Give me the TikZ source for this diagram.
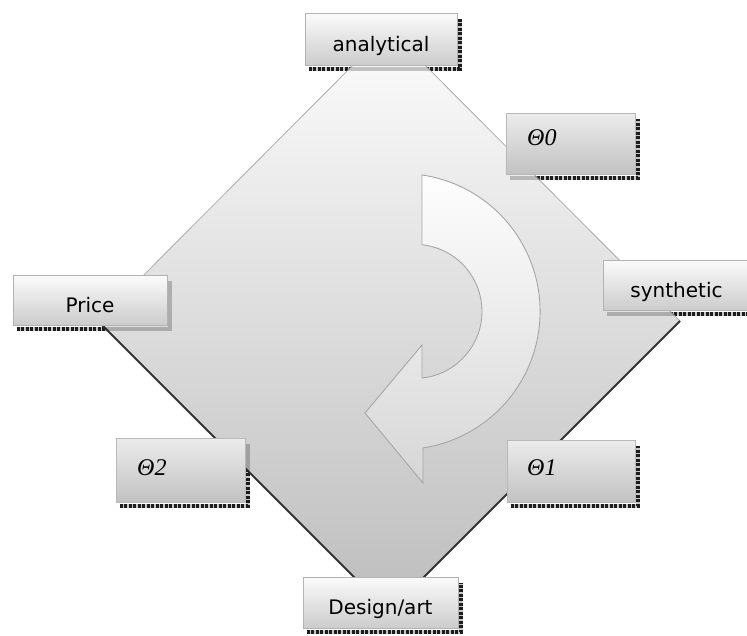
\documentclass[tikz,border=0pt]{standalone}
\usepackage{fontspec}
\setmainfont{DejaVu Sans}
\newfontfamily\thetafont{Liberation Serif}
\usetikzlibrary{calc}
\pgfdeclarelayer{shadowlayer}
\pgfdeclarelayer{bglayer}
\pgfdeclarelayer{softshadow}
\pgfsetlayers{shadowlayer,bglayer,softshadow,main}
\begin{document}
\begin{tikzpicture}[x=1pt,y=1pt,
  box/.style={rectangle, draw=gray!60, line width=0.6pt, top color=gray!3, bottom color=gray!40,
    inner sep=0pt, text height=26pt, text depth=2pt, font=\fontsize{20}{24}\selectfont},
  tbox/.style={rectangle, draw=gray!55, line width=0.6pt, top color=gray!15, bottom color=gray!48, inner sep=0pt},
  tlabel/.style={inner sep=0pt, font=\thetafont\itshape\fontsize{24}{28}\selectfont},
  shad/.style={black!85, line width=3.5pt, dash pattern=on 3pt off 1.5pt},
  softshad/.style={black, opacity=0.22, line width=3.5pt},
]
\useasboundingbox (0,0) rectangle (747,-635);
\clip (0,0) rectangle (747,-635);

% diamond and arrow
\begin{pgfonlayer}{bglayer}
  \coordinate (dt) at (389,-29);
  \coordinate (dr) at (680,-321);
  \coordinate (db) at (389,-612);
  \coordinate (dl) at (98,-321);
  \shade[top color=gray!2, bottom color=gray!52] (dt) -- (dr) -- (db) -- (dl) -- cycle;
  \draw[gray!65, line width=0.8pt] (dl) -- (dt) -- (dr);
  \draw[black!80, line width=1.8pt] (dl) -- (db) -- (dr);
  % curved arrow
  \shadedraw[top color=gray!1, bottom color=gray!32, draw=gray!70, line width=0.9pt]
    (422,-175) arc[start angle=81.7, end angle=-81.3, radius=138]
    -- (423,-483) -- (365,-413) -- (422,-345) -- (422,-378)
    arc[start angle=-84, end angle=84, radius=67] -- cycle;
\end{pgfonlayer}

% boxes
\node[box, minimum width=152pt, minimum height=52pt] (ana) at (381,-39) {analytical};
\node[box, minimum width=154pt, minimum height=50pt] (pri) at (90,-300) {Price};
\node[box, minimum width=155pt, minimum height=50pt] (syn) at (680.5,-285) {\hspace*{-4pt}synthetic\hspace*{4pt}};
\node[box, minimum width=155pt, minimum height=51pt] (des) at (380.5,-602.5) {Design/art};

\node[tbox, minimum width=129pt, minimum height=61pt] (t0) at (570.5,-143.5) {};
\node[tbox, minimum width=128pt, minimum height=62pt] (t1) at (571,-471) {};
\node[tbox, minimum width=129pt, minimum height=64pt] (t2) at (180.5,-470) {};
\node[tlabel, anchor=base west] (t0l) at (527,-145) {Θ0};
\node[tlabel, anchor=base west] (t1l) at (527,-475) {Θ1};
\node[tlabel, anchor=base west] (t2l) at (137,-475) {Θ2};

% shadows: dark on white background, soft over the diamond
\begin{pgfonlayer}{shadowlayer}
  \foreach \n in {ana,pri,syn,des,t0,t1,t2}{
    \draw[shad] ([xshift=4pt,yshift=-3.5pt]\n.south west) -- ([xshift=2.5pt,yshift=-3.5pt]\n.south east)
      -- ([xshift=2.5pt,yshift=-6pt]\n.north east);
  }
\end{pgfonlayer}
\begin{pgfonlayer}{softshadow}
  \foreach \n in {ana,pri,syn,des,t0,t1,t2}{
    \draw[softshad] ([xshift=4pt,yshift=-3.5pt]\n.south west) -- ([xshift=2.5pt,yshift=-3.5pt]\n.south east)
      -- ([xshift=2.5pt,yshift=-6pt]\n.north east);
  }
\end{pgfonlayer}
\end{tikzpicture}
\end{document}
